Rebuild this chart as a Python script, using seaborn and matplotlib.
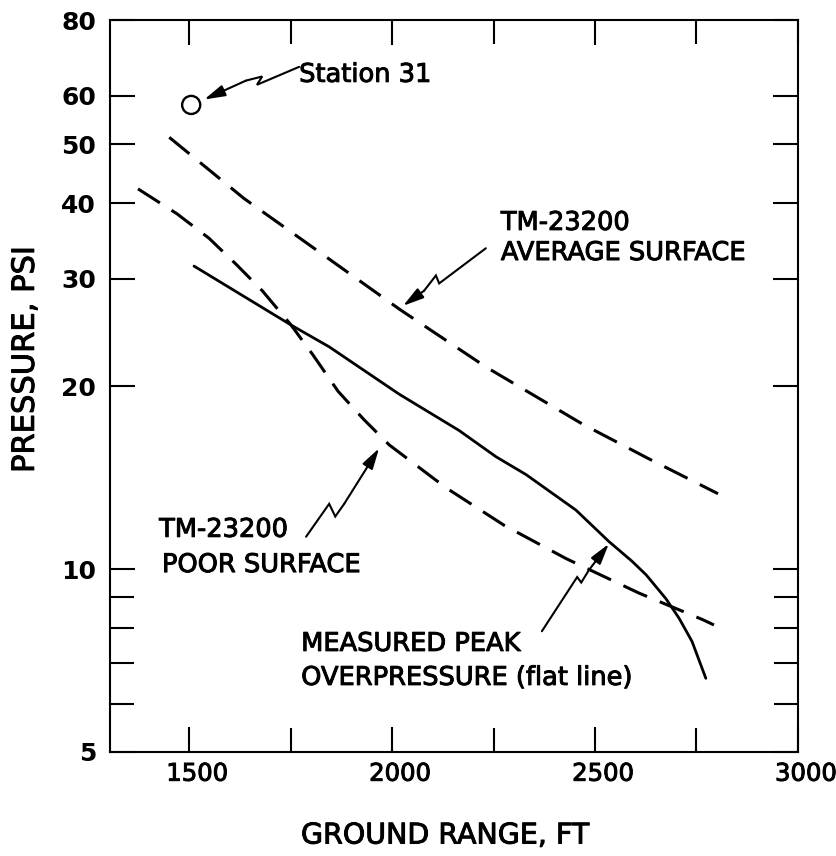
import numpy as np
import pandas as pd
import matplotlib
matplotlib.use("Agg")
import matplotlib.pyplot as plt
import matplotlib.patheffects as pe
import seaborn as sns
from matplotlib.ticker import NullFormatter
from matplotlib.transforms import ScaledTranslation

# curves (ground range ft, pressure psi)
avg_range = [1451, 1635, 1805, 2020, 2231, 2470, 2631, 2803]
avg_psi = [51.3, 40.7, 33.8, 26.7, 21.5, 17.3, 15.2, 13.3]

poor_range = [1374, 1470, 1549, 1616, 1680, 1751, 1805, 1867, 1931, 1993, 2133,
              2276, 2429, 2608, 2766, 2793]
poor_psi = [42.2, 38.4, 35.0, 31.7, 28.7, 25.2, 22.5, 19.6, 17.6, 16.0, 13.6,
            11.8, 10.4, 9.13, 8.25, 8.09]

meas_range = [1512, 1751, 1845, 2017, 2165, 2256, 2330, 2453, 2534, 2591, 2626,
              2675, 2707, 2739, 2773]
meas_psi = [31.5, 25.2, 23.2, 19.4, 16.9, 15.3, 14.3, 12.5, 11.1, 10.3, 9.78,
            8.93, 8.30, 7.60, 6.61]

station_range = [1505]
station_psi = [58.0]

x_major = [1500, 2000, 2500, 3000]
x_minor = [1750, 2250, 2750]
y_major = [5, 10, 20, 30, 40, 50, 60, 80]
y_minor = [6, 7, 8, 9]

sns.set_theme(style="ticks")
plt.rcParams["font.family"] = ["DejaVu Sans"]
plt.rcParams["text.color"] = "black"
plt.rcParams["axes.labelcolor"] = "black"
plt.rcParams["xtick.color"] = "black"
plt.rcParams["ytick.color"] = "black"

fig = plt.figure(figsize=(8.36, 8.56), dpi=100)
ax = fig.add_axes([0.1316, 0.1215, 0.8229, 0.8551])

sns.lineplot(x=avg_range, y=avg_psi, ax=ax, color="black", linewidth=2.2)
ax.lines[-1].set_linestyle((0, (8.5, 4.5)))
sns.lineplot(x=poor_range, y=poor_psi, ax=ax, color="black", linewidth=2.2)
ax.lines[-1].set_linestyle((0, (8.5, 4.5)))
sns.lineplot(x=meas_range, y=meas_psi, ax=ax, color="black", linewidth=2.0)
for ln in ax.lines:
    ln.set_solid_joinstyle("round")
    ln.set_dash_joinstyle("round")
sns.scatterplot(x=station_range, y=station_psi, ax=ax, s=170, facecolors="none",
                edgecolor="black", linewidth=1.7, zorder=5)

ax.set_yscale("log")
ax.set_xlim(1305, 3000)
ax.set_ylim(5, 80)

ax.set_xticks(x_major)
ax.set_xticklabels([str(v) for v in x_major])
ax.set_xticks(x_minor, minor=True)
ax.set_yticks(y_major)
ax.set_yticklabels([str(v) for v in y_major], fontweight="bold")
ax.set_yticks(y_minor, minor=True)
ax.yaxis.set_minor_formatter(NullFormatter())

ax.tick_params(which="both", direction="in", length=18, width=1.5, color="black",
               top=True, right=True)
ax.tick_params(which="minor", length=17)
ax.tick_params(axis="x", which="both", top=True, labelsize=17.5, pad=7)
ax.tick_params(axis="y", which="both", labelsize=18, pad=10)
ax.tick_params(axis="y", which="both", right=True, labelright=False)

thick = [pe.withStroke(linewidth=0.7, foreground="black")]

# nudge x tick labels right like the original lettering
for lab in ax.get_xticklabels():
    lab.set_transform(lab.get_transform() + ScaledTranslation(0.08, 0, fig.dpi_scale_trans))
    lab.set_path_effects(thick)

for sp in ax.spines.values():
    sp.set_visible(True)
    sp.set_linewidth(1.5)
    sp.set_color("black")

ax.set_xlabel("GROUND RANGE, FT", fontsize=20.5)
ax.set_ylabel("PRESSURE, PSI", fontsize=22)
ax.xaxis.set_label_coords(0.487, -0.095)
ax.yaxis.set_label_coords(-0.102, 0.536)
ax.xaxis.label.set_path_effects(thick)
ax.yaxis.label.set_path_effects(thick)


def squiggle(pts):
    xs = [p[0] for p in pts]
    ys = [p[1] for p in pts]
    ax.plot(xs[:-1], ys[:-1], color="black", linewidth=1.5, solid_joinstyle="miter")
    ax.annotate("", xy=pts[-1], xytext=pts[-2],
                arrowprops=dict(arrowstyle="-|>,head_length=0.9,head_width=0.25",
                                mutation_scale=14, color="black", lw=1.5,
                                shrinkA=0, shrinkB=0))


squiggle([(1771, 67.0), (1667, 62.6), (1680, 64.6), (1640, 63.6), (1537, 59.2)])
squiggle([(2231, 33.7), (2116, 29.5), (2108, 30.4), (2079, 28.7), (2027, 27.1)])
squiggle([(1788, 11.3), (1845, 12.8), (1860, 12.2), (1882, 12.8), (1968, 15.8)])
squiggle([(2369, 7.9), (2456, 9.7), (2466, 9.5), (2485, 9.96), (2534, 11.0)])

fs = 18.5
notes = [
    (1771, 65.0, "Station 31"),
    (2268, 37.1, "TM-23200"),
    (2268, 33.1, "AVERAGE SURFACE"),
    (1426, 11.6, "TM-23200"),
    (1433, 10.15, "POOR SURFACE"),
    (1776, 7.53, "MEASURED PEAK"),
    (1776, 6.62, "OVERPRESSURE (flat line)"),
]
for nx, ny, txt in notes:
    ax.text(nx, ny, txt, fontsize=fs, ha="left", va="center", path_effects=thick)

fig.savefig("out.png", dpi=100, facecolor="white")
